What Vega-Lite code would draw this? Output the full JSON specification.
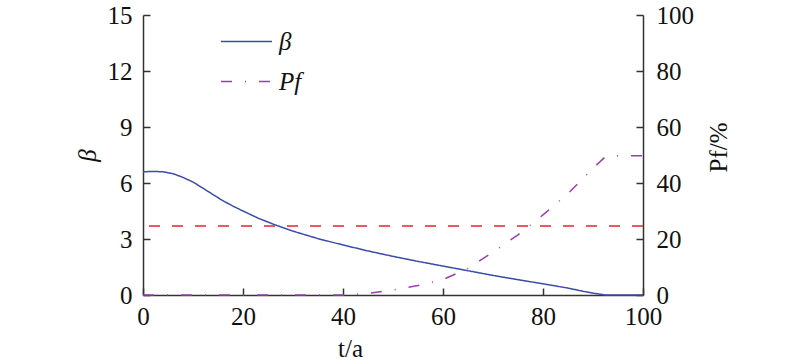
{
  "$schema": "https://vega.github.io/schema/vega-lite/v6.json",
  "width": 500,
  "height": 280,
  "autosize": {"type": "none"},
  "padding": {"left": 143, "top": 15, "right": 157, "bottom": 69},
  "background": "white",
  "config": {
    "view": {"stroke": null},
    "font": "Liberation Serif",
    "axis": {
      "grid": false,
      "domainColor": "#333333",
      "domainWidth": 1.5,
      "tickColor": "#333333",
      "tickWidth": 1.5,
      "labelFont": "Liberation Serif",
      "labelFontSize": 25,
      "labelColor": "#111111",
      "titleFont": "Liberation Serif",
      "titleFontSize": 25,
      "titleFontWeight": "normal",
      "titleColor": "#111111",
      "labelFlush": false,
      "labelOverlap": false
    },
    "legend": {
      "labelFont": "Liberation Serif",
      "labelFontSize": 25,
      "labelFontStyle": "italic",
      "labelColor": "#111111"
    }
  },
  "datasets": {
    "curves": [
      {"t": 0, "series": "β", "value": 6.6},
      {"t": 2, "series": "β", "value": 6.62},
      {"t": 4, "series": "β", "value": 6.6},
      {"t": 6, "series": "β", "value": 6.5},
      {"t": 8, "series": "β", "value": 6.3},
      {"t": 10, "series": "β", "value": 6.05},
      {"t": 12, "series": "β", "value": 5.72},
      {"t": 14, "series": "β", "value": 5.38},
      {"t": 16, "series": "β", "value": 5.05},
      {"t": 18, "series": "β", "value": 4.76},
      {"t": 20, "series": "β", "value": 4.5},
      {"t": 23, "series": "β", "value": 4.12},
      {"t": 26, "series": "β", "value": 3.8},
      {"t": 30, "series": "β", "value": 3.42},
      {"t": 35, "series": "β", "value": 3.02},
      {"t": 40, "series": "β", "value": 2.68},
      {"t": 45, "series": "β", "value": 2.36},
      {"t": 50, "series": "β", "value": 2.07},
      {"t": 55, "series": "β", "value": 1.8},
      {"t": 60, "series": "β", "value": 1.55},
      {"t": 65, "series": "β", "value": 1.3},
      {"t": 70, "series": "β", "value": 1.05},
      {"t": 75, "series": "β", "value": 0.82},
      {"t": 80, "series": "β", "value": 0.6},
      {"t": 85, "series": "β", "value": 0.37},
      {"t": 88, "series": "β", "value": 0.2},
      {"t": 90, "series": "β", "value": 0.1},
      {"t": 92.5, "series": "β", "value": 0},
      {"t": 100, "series": "β", "value": 0},
      {"t": 0, "series": "Pf", "value": 0},
      {"t": 40, "series": "Pf", "value": 0},
      {"t": 45, "series": "Pf", "value": 0.6},
      {"t": 50, "series": "Pf", "value": 1.8},
      {"t": 55, "series": "Pf", "value": 3.4},
      {"t": 60, "series": "Pf", "value": 5.5},
      {"t": 65, "series": "Pf", "value": 9.5},
      {"t": 70, "series": "Pf", "value": 15.3},
      {"t": 75, "series": "Pf", "value": 21.5},
      {"t": 80, "series": "Pf", "value": 28.6},
      {"t": 85, "series": "Pf", "value": 36.2},
      {"t": 90, "series": "Pf", "value": 45.3},
      {"t": 92.5, "series": "Pf", "value": 49.4},
      {"t": 94, "series": "Pf", "value": 49.7},
      {"t": 100, "series": "Pf", "value": 49.7}
    ],
    "limit": [{"threshold": 3.7}]
  },
  "layer": [
    {
      "layer": [
        {
          "data": {"name": "curves"},
          "transform": [{"filter": "datum.series === 'β'"}],
          "mark": {"type": "line", "strokeWidth": 1.5},
          "encoding": {
            "x": {
              "field": "t",
              "type": "quantitative",
              "scale": {"domain": [0, 100], "nice": false, "zero": false},
              "axis": {
                "values": [0, 20, 40, 60, 80, 100],
                "tickSize": -7,
                "labelPadding": 16,
                "title": "t/a",
                "titleX": 207,
                "titleY": 61,
                "titleAlign": "center",
                "titleBaseline": "alphabetic"
              }
            },
            "y": {
              "field": "value",
              "type": "quantitative",
              "scale": {"domain": [0, 15], "nice": false},
              "axis": {
                "values": [0, 3, 6, 9, 12, 15],
                "tickSize": -7,
                "labelPadding": 18,
                "title": "β",
                "titleFontStyle": "italic",
                "titleX": -56,
                "titleY": 140,
                "titleAlign": "center",
                "titleBaseline": "middle",
                "titleAngle": -90
              }
            },
            "color": {
              "field": "series",
              "type": "nominal",
              "scale": {"domain": ["β", "Pf"], "range": ["#3a4ca8", "#9c3fae"]},
              "legend": {
                "title": null,
                "orient": "none",
                "legendX": 77,
                "legendY": 0,
                "symbolSize": 2600,
                "symbolStrokeWidth": 1.5,
                "rowPadding": -18,
                "labelOffset": 6
              }
            },
            "strokeDash": {
              "field": "series",
              "type": "nominal",
              "scale": {"domain": ["β", "Pf"], "range": [[1, 0], [11, 13, 1, 13]]},
              "legend": {
                "title": null,
                "orient": "none",
                "legendX": 77,
                "legendY": 0,
                "symbolSize": 2600,
                "symbolStrokeWidth": 1.5,
                "rowPadding": -18,
                "labelOffset": 6
              }
            }
          }
        },
        {
          "data": {"name": "limit"},
          "mark": {"type": "rule", "color": "#e3262b", "strokeWidth": 1.5, "strokeDash": [11, 12]},
          "encoding": {
            "y": {"field": "threshold", "type": "quantitative"}
          }
        }
      ]
    },
    {
      "data": {"name": "curves"},
      "transform": [{"filter": "datum.series === 'Pf'"}],
      "mark": {"type": "line", "strokeWidth": 1.5},
      "encoding": {
        "x": {"field": "t", "type": "quantitative"},
        "y": {
          "field": "value",
          "type": "quantitative",
          "scale": {"domain": [0, 100], "nice": false},
          "axis": {
            "orient": "right",
            "values": [0, 20, 40, 60, 80, 100],
            "tickSize": -7,
            "labelPadding": 20,
            "title": "Pf/%",
            "titleX": 75,
            "titleY": 132,
            "titleAlign": "center",
            "titleBaseline": "middle",
            "titleAngle": -90
          }
        },
        "color": {"field": "series", "type": "nominal"},
        "strokeDash": {"field": "series", "type": "nominal"}
      }
    }
  ],
  "resolve": {"scale": {"y": "independent"}}
}
